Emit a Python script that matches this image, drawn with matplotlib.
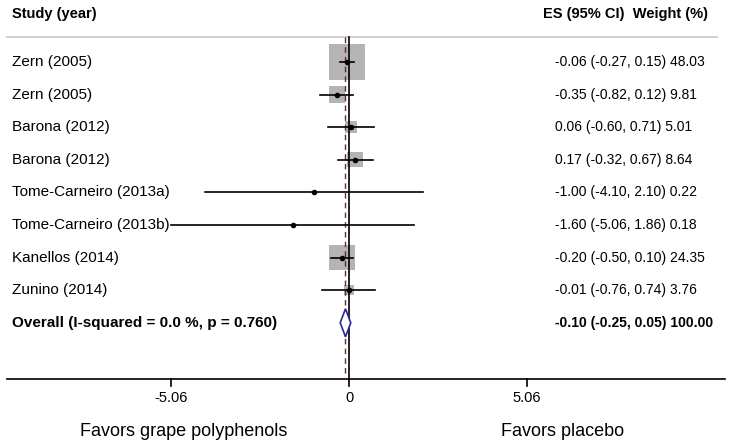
import matplotlib
matplotlib.use("Agg")
import matplotlib.pyplot as plt
from matplotlib.patches import Rectangle, Polygon
import numpy as np

plt.rcParams['font.family'] = ['Liberation Sans', 'DejaVu Sans']

studies = ["Zern (2005)", "Zern (2005)", "Barona (2012)", "Barona (2012)",
           "Tome-Carneiro (2013a)", "Tome-Carneiro (2013b)", "Kanellos (2014)",
           "Zunino (2014)"]
es = [-0.06, -0.35, 0.06, 0.17, -1.00, -1.60, -0.20, -0.01]
lo = [-0.27, -0.82, -0.60, -0.32, -4.10, -5.06, -0.50, -0.76]
hi = [0.15, 0.12, 0.71, 0.67, 2.10, 1.86, 0.10, 0.74]
weights = [48.03, 9.81, 5.01, 8.64, 0.22, 0.18, 24.35, 3.76]
overall = (-0.10, -0.25, 0.05)
overall_label = "Overall (I-squared = 0.0 %, p = 0.760)"
ticks = [-5.06, 0, 5.06]
tick_labels = ["-5.06", "0", "5.06"]

W, H = 738, 446
fig = plt.figure(figsize=(W / 100, H / 100), dpi=100)
ax = fig.add_axes([0, 0, 1, 1])
ax.axis('off')

# pixel mapping for x: 0 at 349 px, 35.18 px per unit
x0, scale = 349.0, 35.18
ax.set_xlim(-x0 / scale, (W - x0) / scale)
ax.set_ylim(H, 0)

def px(xp):
    return (xp - x0) / scale

row0, step = 62, 32.6
rows = [row0 + i * step for i in range(len(studies) + 1)]
top, axis_y = 37, 379

# header
fs = 11
ax.text(px(12), 14, "Study (year)", fontsize=10.5, fontweight='bold', va='center')
ax.text(px(708), 14, "ES (95% CI)  Weight (%)", fontsize=10.5, fontweight='bold',
        va='center', ha='right')
ax.plot([px(7), px(717)], [top, top], color='#c8c8c8', lw=1.2)

# reference lines
ax.plot([0, 0], [top, axis_y], color='black', lw=1.2, zorder=3)
ax.plot([overall[0], overall[0]], [top, axis_y], color='#8b1a1a', lw=1.0,
        ls=(0, (4, 3)), zorder=3)

# studies
for i, name in enumerate(studies):
    y = rows[i]
    side = 36 * np.sqrt(weights[i] / 48.03)
    ax.add_patch(Rectangle((es[i] - side / 2 / scale, y - side / 2), side / scale, side,
                           facecolor='#b4b4b4', edgecolor='none', zorder=2))
    ax.plot([lo[i], hi[i]], [y, y], color='black', lw=1.2, zorder=4)
    ax.plot([es[i]], [y], 'o', color='black', ms=3, zorder=5)
    ax.text(px(12), y, name, fontsize=fs, va='center')
    ax.text(px(555), y, "%.2f (%.2f, %.2f) %.2f" % (es[i], lo[i], hi[i], weights[i]),
            fontsize=10, va='center')

# overall
y = rows[-1]
ax.add_patch(Polygon([[overall[1], y], [overall[0], y - 14], [overall[2], y],
                      [overall[0], y + 14]], closed=True, facecolor='white',
                     edgecolor='#2a2a8c', lw=1.2, zorder=6))
ax.text(px(12), y, overall_label, fontsize=fs, fontweight='bold', va='center')
ax.text(px(555), y, "%.2f (%.2f, %.2f) 100.00" % overall, fontsize=10,
        fontweight='bold', va='center')

# axis
ax.plot([px(7), px(725)], [axis_y, axis_y], color='black', lw=1.2)
for t, lab in zip(ticks, tick_labels):
    ax.plot([t, t], [axis_y, axis_y + 7], color='black', lw=1.2)
    ax.text(t, 398, lab, fontsize=10.5, ha='center', va='center')

ax.text(px(184), 431, "Favors grape polyphenols", fontsize=13, ha='center', va='center')
ax.text(px(563), 431, "Favors placebo", fontsize=13, ha='center', va='center')

fig.savefig("out.png", dpi=100)
